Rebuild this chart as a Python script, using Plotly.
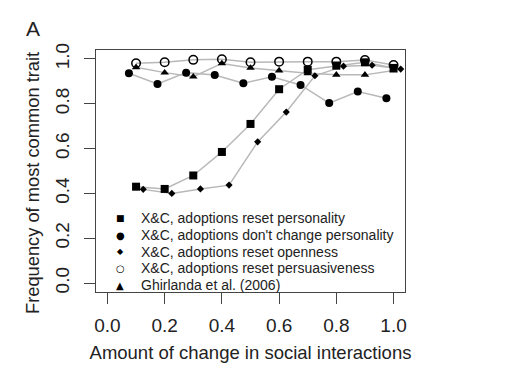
import plotly.graph_objects as go

# ---- data ----
x_base = [0.1, 0.2, 0.3, 0.4, 0.5, 0.6, 0.7, 0.8, 0.9, 1.0]
x_dontchange = [0.075, 0.175, 0.275, 0.375, 0.475, 0.575, 0.675, 0.775, 0.875, 0.975]
x_openness = [0.125, 0.225, 0.325, 0.425, 0.525, 0.625, 0.725, 0.825, 0.925, 1.025]

y_reset_personality = [0.43, 0.42, 0.48, 0.585, 0.71, 0.865, 0.952, 0.97, 0.985, 0.96]
y_dont_change = [0.936, 0.888, 0.939, 0.928, 0.892, 0.921, 0.884, 0.803, 0.855, 0.825]
y_reset_openness = [0.418, 0.40, 0.42, 0.437, 0.63, 0.763, 0.925, 0.968, 0.972, 0.955]
y_reset_persuasiveness = [0.981, 0.985, 0.996, 0.999, 0.985, 0.988, 0.988, 0.988, 0.995, 0.973]
y_ghirlanda = [0.963, 0.939, 0.921, 0.98, 0.96, 0.948, 0.936, 0.929, 0.929, 0.948]

x_ticks = [0.0, 0.2, 0.4, 0.6, 0.8, 1.0]
y_ticks = [0.0, 0.2, 0.4, 0.6, 0.8, 1.0]

x_title = "Amount of change in social interactions"
y_title = "Frequency of most common trait"
panel_label = "A"

series_names = [
    "X&C, adoptions reset personality",
    "X&C, adoptions don't change personality",
    "X&C, adoptions reset openness",
    "X&C, adoptions reset persuasiveness",
    "Ghirlanda et al. (2006)",
]

series = [
    (x_base, y_reset_personality, "square", 8, "■", 9),
    (x_dontchange, y_dont_change, "circle", 8, "●", 10),
    (x_openness, y_reset_openness, "diamond", 5.5, "◆", 8),
    (x_base, y_reset_persuasiveness, "circle-open", 8.5, "○", 10),
    (x_base, y_ghirlanda, "triangle-up", 7.5, "▲", 10),
]

FONT = "Liberation Sans, Arial, sans-serif"
INK = "#222222"
LINE_GRAY = "#b8b8b8"

fig = go.Figure()

# connecting lines first (all under markers)
for (xs, ys, sym, sz, glyph, gsz), name in zip(series, series_names):
    fig.add_trace(go.Scatter(x=xs, y=ys, mode="lines",
                             line=dict(color=LINE_GRAY, width=1.5),
                             showlegend=False, hoverinfo="skip"))
# markers
for (xs, ys, sym, sz, glyph, gsz), name in zip(series, series_names):
    fig.add_trace(go.Scatter(x=xs, y=ys, mode="markers", name=name,
                             marker=dict(symbol=sym, size=sz, color="black",
                                         line=dict(color="black", width=1.5 if "open" in sym else 0)),
                             showlegend=False))

# plot area in pixels
L, R, T, B = 96, 106, 50, 78
W, H = 511, 370
pw, ph = W - L - R, H - T - B

def px_x(p):
    return (p - L) / pw

def px_y(p):
    return (H - B - p) / ph

annotations = []
# legend (no box, as in R's bty="n")
row0, dy = 218.3, 16.7
for i, ((xs, ys, sym, sz, glyph, gsz), name) in enumerate(zip(series, series_names)):
    yc = px_y(row0 + i * dy)
    annotations.append(dict(x=px_x(120), y=yc, xref="paper", yref="paper",
                            text=glyph, showarrow=False, xanchor="center", yanchor="middle",
                            font=dict(family="DejaVu Sans", size=gsz, color="black")))
    annotations.append(dict(x=px_x(139), y=yc, xref="paper", yref="paper",
                            text=name, showarrow=False, xanchor="left", yanchor="middle",
                            font=dict(family=FONT, size=14, color=INK)))
# y-axis title (placed like R's mtext, slightly below centre)
annotations.append(dict(x=px_x(32), y=px_y(183), xref="paper", yref="paper", text=y_title,
                        textangle=-90, showarrow=False, xanchor="center", yanchor="middle",
                        font=dict(family=FONT, size=18.3, color=INK)))
# panel letter
annotations.append(dict(x=px_x(33), y=px_y(28), xref="paper", yref="paper", text=panel_label,
                        showarrow=False, xanchor="center", yanchor="middle",
                        font=dict(family=FONT, size=21, color=INK)))

axis_common = dict(showline=True, mirror=True, linecolor="#444444", linewidth=1,
                   ticks="outside", ticklen=11, tickwidth=1, tickcolor="#444444",
                   showgrid=False, zeroline=False, range=[-0.04, 1.04],
                   automargin=False,
                   tickformat=".1f", tickfont=dict(family=FONT, size=19, color=INK))

fig.update_layout(
    width=W, height=H,
    margin=dict(l=L, r=R, t=T, b=B),
    paper_bgcolor="white", plot_bgcolor="white",
    showlegend=False,
    xaxis=dict(**axis_common, tickvals=x_ticks, ticklabelstandoff=5,
               title=dict(text=x_title,
                          font=dict(family=FONT, size=18.5, color=INK), standoff=11)),
    yaxis=dict(**axis_common, tickvals=y_ticks, tickangle=-90, ticklabelstandoff=7),
    annotations=annotations,
)

fig.write_html("out.html",
               config={"displayModeBar": False},
               post_script="document.body.style.margin='0';document.body.style.overflow='hidden';")
